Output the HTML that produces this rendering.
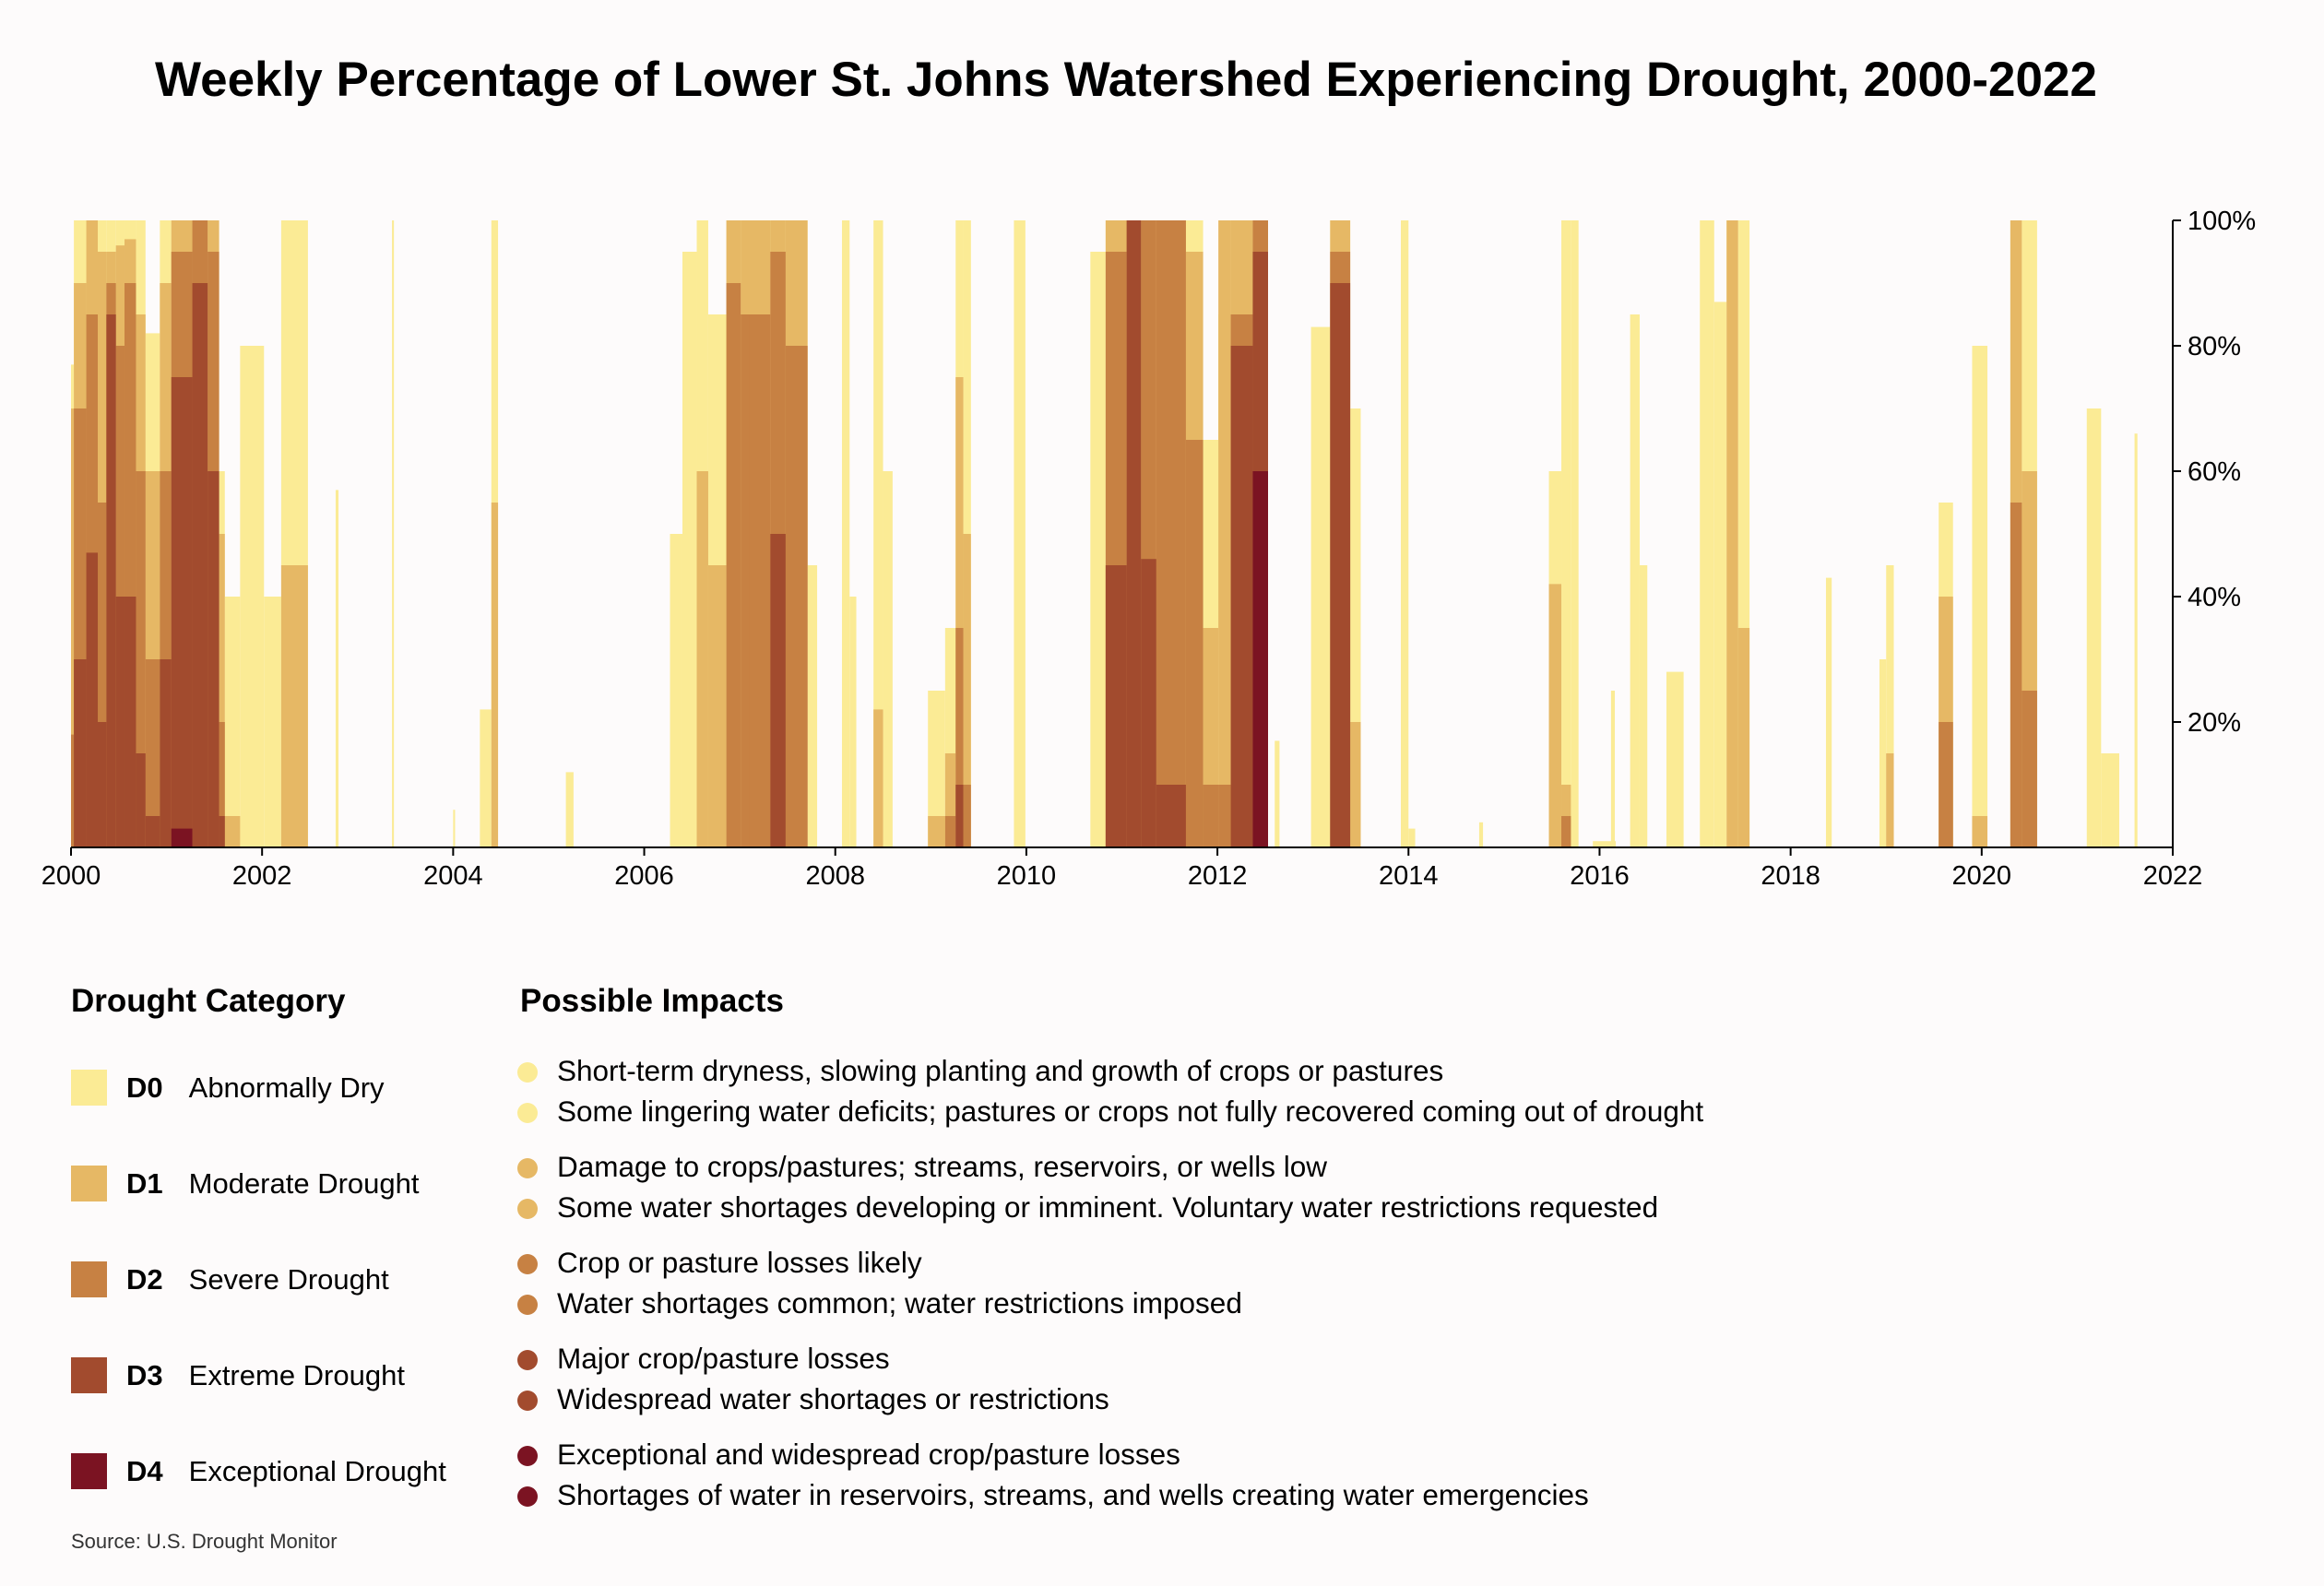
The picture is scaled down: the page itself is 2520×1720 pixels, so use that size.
<!DOCTYPE html>
<html><head><meta charset="utf-8">
<style>
html,body{margin:0;padding:0;background:#fdfbfb;}
body{width:2520px;height:1720px;position:relative;overflow:hidden;font-family:"Liberation Sans",sans-serif;color:#000;}
.t{position:absolute;white-space:nowrap;}
</style></head>
<body>
<div class="t" style="left:0;width:2442px;text-align:center;top:56px;font-size:53px;font-weight:bold;">Weekly Percentage of Lower St. Johns Watershed Experiencing Drought, 2000-2022</div>
<svg id="chart" width="2520" height="1000" style="position:absolute;left:0;top:0;"></svg>

<div class="t" style="left:77px;top:1066px;font-size:35px;font-weight:bold;">Drought Category</div>
<div class="t" style="left:564px;top:1066px;font-size:35px;font-weight:bold;">Possible Impacts</div>
<div id="legend"></div>
<div class="t" style="left:77px;top:1659px;font-size:22px;color:#333;">Source: U.S. Drought Monitor</div>

<script>
const categories = ["D0","D1","D2","D3","D4"];
const categoryNames = ["Abnormally Dry","Moderate Drought","Severe Drought","Extreme Drought","Exceptional Drought"];
const colors = ["#fbeb95","#e6b865","#c78143","#a24b2e","#7b1322"];
const impacts = [
 ["Short-term dryness, slowing planting and growth of crops or pastures","Some lingering water deficits; pastures or crops not fully recovered coming out of drought"],
 ["Damage to crops/pastures; streams, reservoirs, or wells low","Some water shortages developing or imminent. Voluntary water restrictions requested"],
 ["Crop or pasture losses likely","Water shortages common; water restrictions imposed"],
 ["Major crop/pasture losses","Widespread water shortages or restrictions"],
 ["Exceptional and widespread crop/pasture losses","Shortages of water in reservoirs, streams, and wells creating water emergencies"]
];
const xTicks = [2000,2002,2004,2006,2008,2010,2012,2014,2016,2018,2020,2022];
const yTicks = [20,40,60,80,100];
// period start / end (decimal years) and cumulative % area in each category or worse
const periodStart = [2000.00,2000.03,2000.16,2000.28,2000.37,2000.47,2000.56,2000.68,2000.78,2000.93,2001.05,2001.27,2001.43,2001.55,2001.61,2001.77,2002.02,2002.20,2002.77,2003.36,2004.00,2004.28,2004.40,2005.18,2006.27,2006.40,2006.55,2006.67,2006.86,2007.01,2007.10,2007.32,2007.48,2007.71,2008.07,2008.15,2008.40,2008.50,2008.97,2009.15,2009.26,2009.34,2009.87,2010.67,2010.83,2011.05,2011.20,2011.36,2011.67,2011.85,2012.01,2012.14,2012.37,2012.60,2012.98,2013.18,2013.39,2013.92,2014.00,2014.74,2015.47,2015.60,2015.70,2015.93,2016.12,2016.32,2016.42,2016.70,2017.05,2017.20,2017.33,2017.45,2018.37,2018.93,2019.00,2019.55,2019.90,2020.30,2020.42,2021.10,2021.25,2021.60];
const periodEnd   = [2000.03,2000.16,2000.28,2000.37,2000.47,2000.56,2000.68,2000.78,2000.93,2001.05,2001.27,2001.43,2001.55,2001.61,2001.77,2002.02,2002.20,2002.48,2002.80,2003.38,2004.02,2004.40,2004.47,2005.26,2006.40,2006.55,2006.67,2006.86,2007.01,2007.10,2007.32,2007.48,2007.71,2007.81,2008.15,2008.22,2008.50,2008.60,2009.15,2009.26,2009.34,2009.42,2009.99,2010.83,2011.05,2011.20,2011.36,2011.67,2011.85,2012.01,2012.14,2012.37,2012.53,2012.65,2013.18,2013.39,2013.50,2014.00,2014.07,2014.78,2015.60,2015.70,2015.78,2016.17,2016.16,2016.42,2016.50,2016.88,2017.20,2017.33,2017.45,2017.57,2018.43,2019.00,2019.08,2019.70,2020.06,2020.42,2020.58,2021.25,2021.44,2021.63];
const d0 = [77,100,100,100,100,100,100,100,82,100,100,100,100,60,40,80,40,100,57,100,6,22,100,12,50,95,100,85,100,100,100,100,100,45,100,40,100,60,25,35,100,100,100,95,100,100,100,100,100,65,85,100,100,17,83,100,70,100,3,4,60,100,100,1,25,85,45,28,100,87,100,100,43,30,45,55,80,100,100,70,15,66];
const d1 = [70,90,100,95,95,96,97,85,60,90,100,100,100,50,5,0,0,45,0,0,0,0,55,0,0,0,60,45,100,100,100,100,100,0,0,0,22,0,5,15,75,50,0,0,100,100,100,100,95,35,100,100,100,0,0,100,20,0,0,0,42,10,0,0,0,0,0,0,0,0,100,35,0,0,15,40,5,100,60,0,0,0];
const d2 = [18,70,85,55,90,80,90,60,30,60,95,100,95,20,0,0,0,0,0,0,0,0,0,0,0,0,0,0,90,85,85,95,80,0,0,0,0,0,0,5,35,10,0,0,95,100,100,100,65,10,10,85,100,0,0,95,0,0,0,0,0,5,0,0,0,0,0,0,0,0,0,0,0,0,0,20,0,55,25,0,0,0];
const d3 = [0,30,47,20,85,40,40,15,5,30,75,90,60,5,0,0,0,0,0,0,0,0,0,0,0,0,0,0,0,0,0,50,0,0,0,0,0,0,0,0,10,0,0,0,45,100,46,10,0,0,0,80,95,0,0,90,0,0,0,0,0,0,0,0,0,0,0,0,0,0,0,0,0,0,0,0,0,0,0,0,0,0];
const d4 = [0,0,0,0,0,0,0,0,0,0,3,0,0,0,0,0,0,0,0,0,0,0,0,0,0,0,0,0,0,0,0,0,0,0,0,0,0,0,0,0,0,0,0,0,0,0,0,0,0,0,0,0,60,0,0,0,0,0,0,0,0,0,0,0,0,0,0,0,0,0,0,0,0,0,0,0,0,0,0,0,0,0];
const series = [d0,d1,d2,d3,d4];

const NS="http://www.w3.org/2000/svg";
const svg=document.getElementById('chart');
const X0=77,X1=2356,YT=239,YB=919;
const xScale=v=>X0+(v-2000)/22*(X1-X0);
const yScale=v=>YB-v/100*(YB-YT);
function mk(tag,attrs){const e=document.createElementNS(NS,tag);for(const k in attrs)e.setAttribute(k,attrs[k]);return e;}

for(let c=0;c<categories.length;c++){
  const g=mk('g',{});
  
  
  svg.appendChild(g);
  for(let i=0;i<periodStart.length;i++){
    const v=series[c][i]; if(!v) continue;
    const x=xScale(periodStart[i]), w=Math.max(2,xScale(periodEnd[i])-x);
    const r=mk('rect',{x:x,y:yScale(v),width:w,height:YB-yScale(v),fill:colors[c]});
    
    
    g.appendChild(r);
  }
}
const xa=mk('line',{x1:X0,x2:X1,y1:YB,y2:YB,stroke:'#000','stroke-width':2});


svg.appendChild(xa);
const ya=mk('line',{x1:X1,x2:X1,y1:YT,y2:YB,stroke:'#000','stroke-width':2});


svg.appendChild(ya);
xTicks.forEach(t=>{
  const x=xScale(t);
  svg.appendChild(mk('line',{x1:x,x2:x,y1:YB,y2:YB+9,stroke:'#000','stroke-width':2}));
  const tx=mk('text',{x:x,y:YB+40,'text-anchor':'middle','font-size':29,'font-family':'Liberation Sans, sans-serif'});
  tx.textContent=t;
  
  
  svg.appendChild(tx);
});
yTicks.forEach(t=>{
  const y=yScale(t);
  svg.appendChild(mk('line',{x1:X1,x2:X1+9,y1:y,y2:y,stroke:'#000','stroke-width':2}));
  const tx=mk('text',{x:X1+16,y:y+10,'font-size':29,'font-family':'Liberation Sans, sans-serif'});
  tx.textContent=t+'%';
  
  
  svg.appendChild(tx);
});

const leg=document.getElementById('legend');
const rowY=[1160,1264,1368,1472,1576];
for(let c=0;c<5;c++){
  const sw=document.createElement('div');
  sw.className='t';
  sw.style.cssText=`left:77px;top:${rowY[c]}px;width:39px;height:39px;background:${colors[c]};`;
  
  
  leg.appendChild(sw);
  const lb=document.createElement('div');
  lb.className='t';
  lb.style.cssText=`left:137px;top:${rowY[c]+2}px;font-size:31px;`;
  lb.innerHTML=`<b style="margin-right:28px">${categories[c]}</b>${categoryNames[c]}`;
  
  
  leg.appendChild(lb);
  impacts[c].forEach((txt,j)=>{
    const y=rowY[c]-17+j*44;
    const dot=document.createElement('div');
    dot.className='t';
    dot.style.cssText=`left:561px;top:${y+9}px;width:22px;height:22px;border-radius:50%;background:${colors[c]};`;
    
    
    leg.appendChild(dot);
    const it=document.createElement('div');
    it.className='t';
    it.style.cssText=`left:604px;top:${y}px;font-size:31.5px;`;
    it.textContent=txt;
    
    
    leg.appendChild(it);
  });
}
</script>
</body></html>
